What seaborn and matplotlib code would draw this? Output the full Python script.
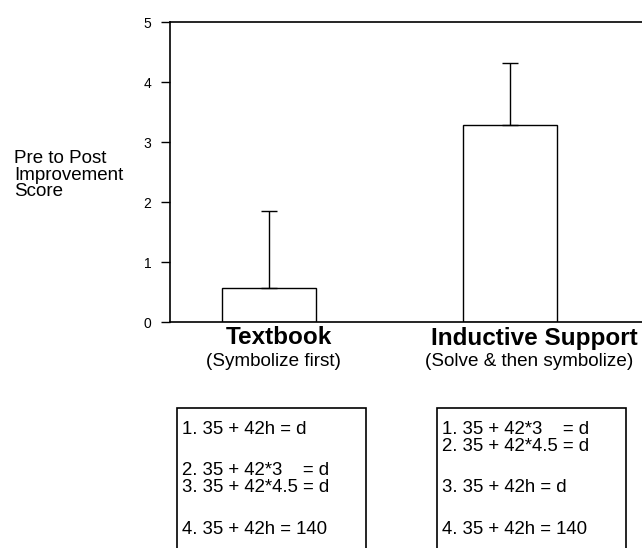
import matplotlib
matplotlib.use("Agg")
import matplotlib.pyplot as plt
import matplotlib.transforms as mtransforms
from matplotlib.patches import Rectangle
import seaborn as sns

# chart values
categories = ["Textbook", "Inductive Support"]
subtitles = ["(Symbolize first)", "(Solve & then symbolize)"]
means = [0.57, 3.29]
upper_err = [1.28, 1.02]
y_ticks = [0, 1, 2, 3, 4, 5]
ylabel = "Pre to Post\nImprovement\nScore"

# worked problems listed under each condition (blank = gap line)
left_lines = ["1. 35 + 42h = d", "", "2. 35 + 42*3    = d", "3. 35 + 42*4.5 = d", "", "4. 35 + 42h = 140"]
right_lines = ["1. 35 + 42*3    = d", "2. 35 + 42*4.5 = d", "", "3. 35 + 42h = d", "", "4. 35 + 42h = 140"]

sns.set_style("ticks")
plt.rcParams['font.family'] = ['Liberation Sans', 'DejaVu Sans']
for key in ["text.color", "axes.labelcolor", "xtick.color", "ytick.color", "axes.edgecolor"]:
    plt.rcParams[key] = "black"

W, H = 642, 548
fig = plt.figure(figsize=(W / 100, H / 100), dpi=100)
ax = fig.add_axes([170 / W, (H - 322) / H, (W - 170) / W, 300 / H])

sns.barplot(x=categories, y=means, order=categories, width=0.39, color="white",
            edgecolor="black", linewidth=1, errorbar=None, ax=ax)
ax.errorbar(x=[0, 1], y=means, yerr=[[0, 0], upper_err], fmt="none",
            ecolor="black", elinewidth=1, capsize=6, capthick=1)

ax.set_xlim(-0.41, 1.55)
ax.set_ylim(0, 5)
ax.set_yticks(y_ticks)
ax.set_yticklabels([str(t) for t in y_ticks], fontsize=10)
ax.tick_params(axis="y", length=6.5, width=1, direction="out", pad=7)
ax.tick_params(axis="x", length=0)
ax.set_xticklabels([])
ax.set_xlabel("")

for side in ["left", "top", "bottom"]:
    ax.spines[side].set_linewidth(1.2)
ax.spines["right"].set_visible(False)

ax.set_ylabel(ylabel, rotation=0, fontsize=13.5, ha="left", va="center",
              multialignment="left", linespacing=0.98)
ax.yaxis.set_label_coords((14 - 170) / 472, (322 - 175) / 300)

# category names and their sub-captions, slightly right of bar centres as in the original
trans = mtransforms.blended_transform_factory(ax.transData, ax.transAxes)
name_shift = [10, 25]
sub_shift = [5, 20]
for i, (name, sub) in enumerate(zip(categories, subtitles)):
    t1 = trans + mtransforms.ScaledTranslation(name_shift[i] / 100, 0, fig.dpi_scale_trans)
    ax.text(i, (322 - 338) / 300, name, transform=t1, ha="center", va="center",
            fontsize=17.5, fontweight="bold")
    t2 = trans + mtransforms.ScaledTranslation(sub_shift[i] / 100, 0, fig.dpi_scale_trans)
    ax.text(i, (322 - 361.5) / 300, sub, transform=t2, ha="center", va="center", fontsize=13.6)

# boxes with the problem sequences
for x0, x1, lines in [(177, 366, left_lines), (437, 626, right_lines)]:
    fig.add_artist(Rectangle((x0 / W, -0.1), (x1 - x0) / W, 0.1 + (H - 408) / H,
                             transform=fig.transFigure, fill=False, edgecolor="black",
                             linewidth=1.2, clip_on=False))
    y = 429
    for line in lines:
        if not line:
            y += 24
            continue
        fig.text((x0 + 5) / W, (H - y) / H, line, ha="left", va="center", fontsize=13.4)
        y += 17.5

fig.savefig("out.png", dpi=100)
